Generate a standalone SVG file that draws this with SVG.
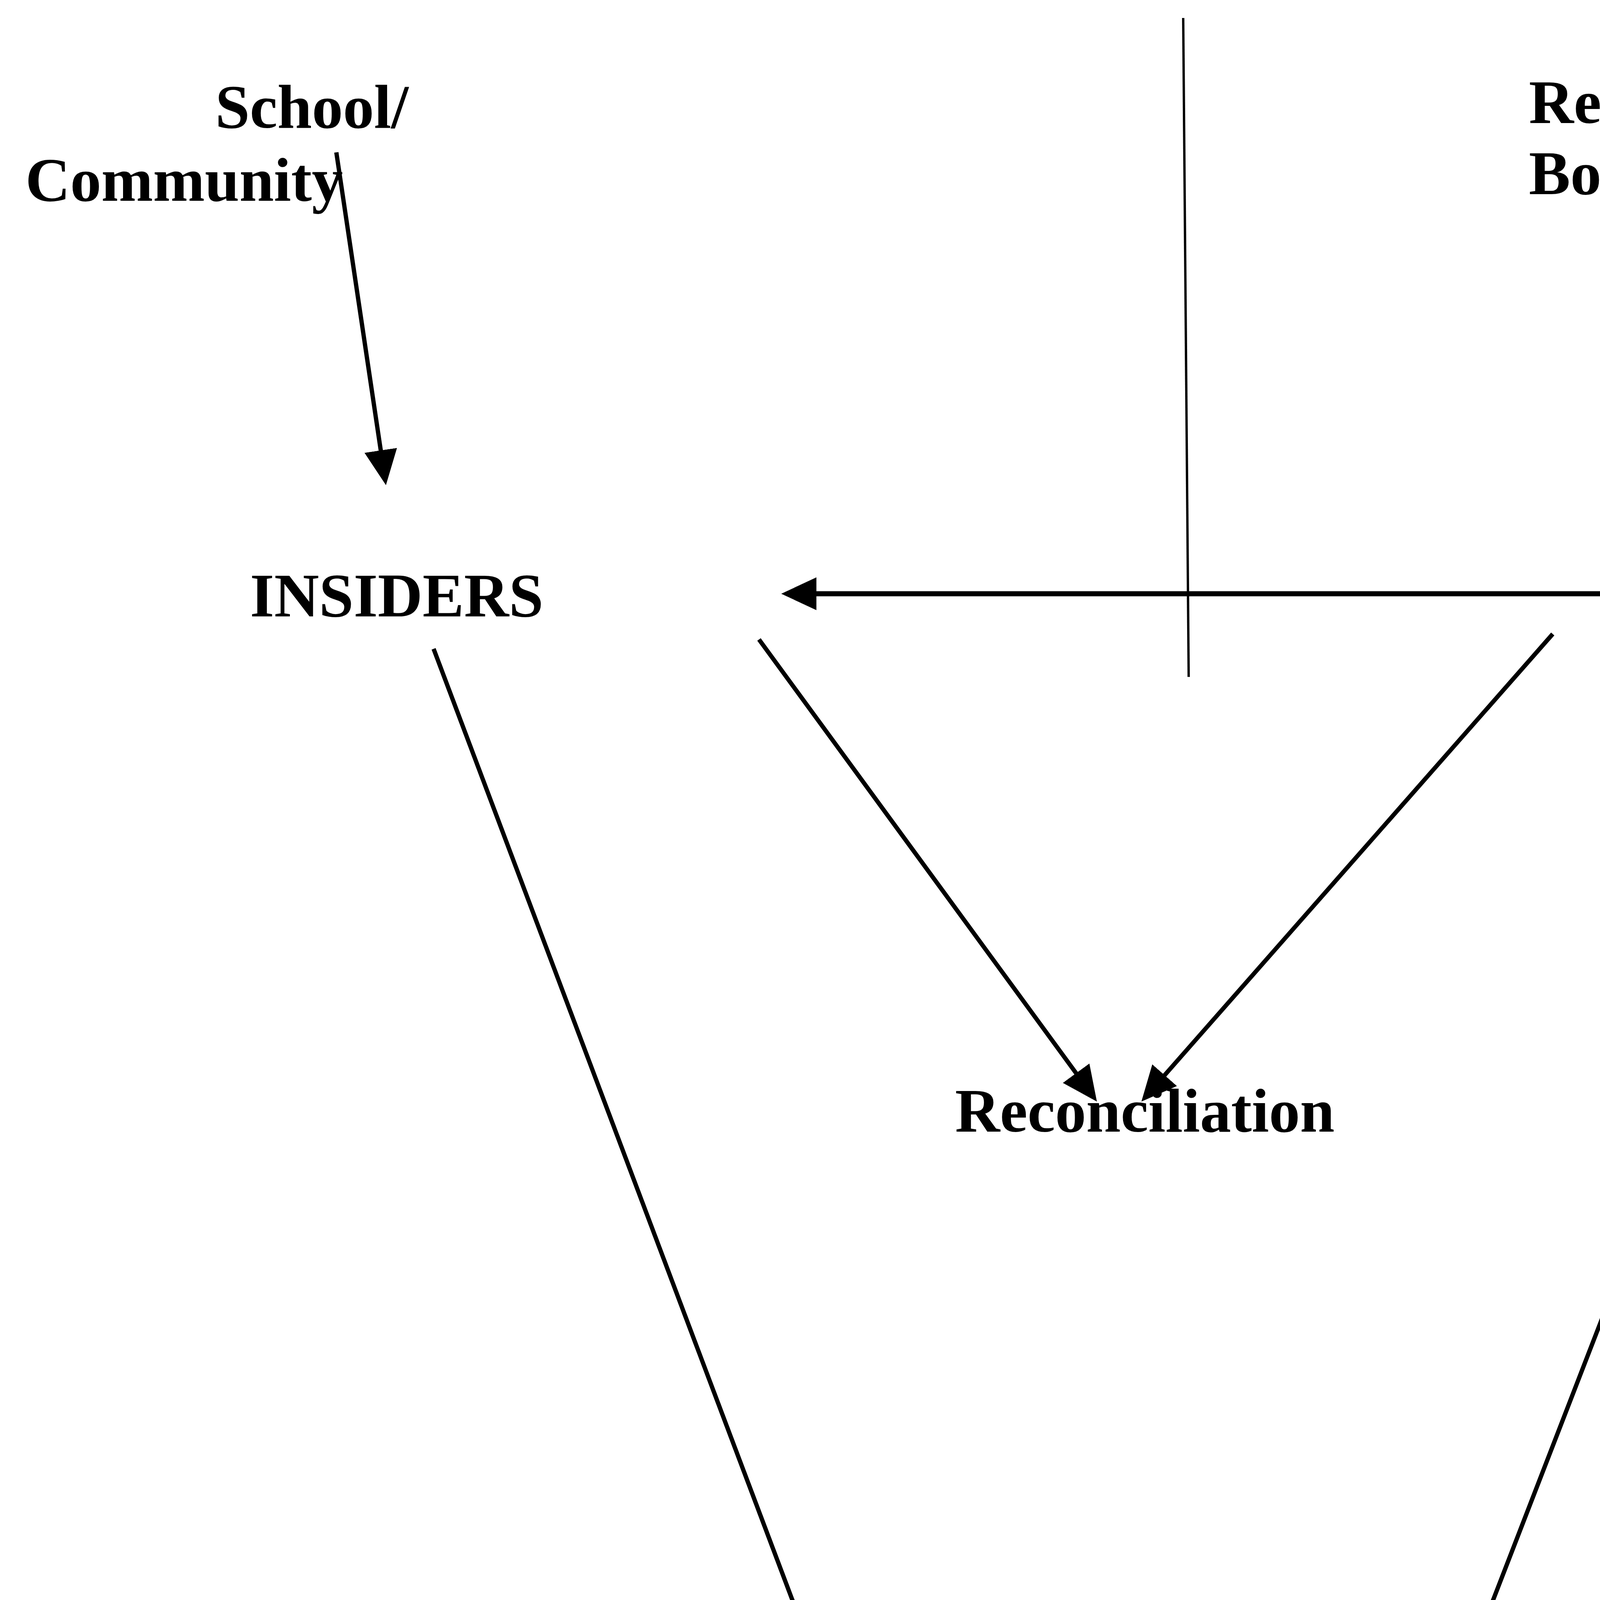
<svg xmlns="http://www.w3.org/2000/svg" width="5862" height="6140" viewBox="0 0 5862 6140">
<defs>
<style>
.lbl{font-family:"Liberation Serif","Times New Roman",serif;font-weight:bold;font-size:159px;fill:#000}
.con{stroke:#000;stroke-width:11;fill:none}
.thin{stroke:#000;stroke-width:6;fill:none}
</style>
<marker id="ah" markerUnits="userSpaceOnUse" viewBox="0 0 90 84" refX="50" refY="42" markerWidth="90" markerHeight="84" orient="auto-start-reverse">
<path d="M0,0 L90,42 L0,84 Z" fill="#000"/>
</marker>
</defs>
<rect width="5862" height="6140" fill="#fff"/>
<g id="connectors">
<line class="thin" x1="3029" y1="46" x2="3043" y2="1733"/>
<line class="con" x1="861" y1="390" x2="982.1" y2="1202.4" marker-end="url(#ah)"/>
<line class="con" x1="5045" y1="350" x2="4784" y2="1182.8" marker-end="url(#ah)"/>
<line class="con" style="stroke-width:13" x1="2040" y1="1520" x2="4146" y2="1520" marker-start="url(#ah)" marker-end="url(#ah)"/>
<line class="con" x1="1943" y1="1637" x2="2784.4" y2="2787.7" marker-end="url(#ah)"/>
<line class="con" x1="3975" y1="1623" x2="2948.4" y2="2790" marker-end="url(#ah)"/>
<line class="con" x1="1110" y1="1661" x2="2649.9" y2="5743.6" marker-end="url(#ah)"/>
<line class="con" x1="4776" y1="1632" x2="3185.5" y2="5741.7" marker-end="url(#ah)"/>
<line class="con" x1="4782" y1="1622" x2="4929.9" y2="4474.1" marker-end="url(#ah)"/>
</g>
<g id="school"><text class="lbl" x="551" y="327">School/</text><text class="lbl" x="65" y="514">Community</text></g>
<g id="refboard"><text class="lbl" x="3914" y="315">Reference</text><text class="lbl" x="3914" y="497">Board</text></g>
<g id="group"><text class="lbl" x="4838" y="311">Group/Exam</text></g>
<g id="insiders"><text class="lbl" x="640" y="1578">INSIDERS</text></g>
<g id="outsiders"><text class="lbl" x="4212" y="1558">OUTSIDERS</text></g>
<g id="reconciliation"><text class="lbl" x="2445" y="2897">Reconciliation</text></g>
<g id="knowledge"><text class="lbl" x="3955" y="4482" word-spacing="34">Knowledge/ Experience of</text><text class="lbl" x="3964" y="4665">different contexts</text></g>
<g id="moderation"><text class="lbl" x="2273" y="6126">Moderation Process</text></g>
</svg>
